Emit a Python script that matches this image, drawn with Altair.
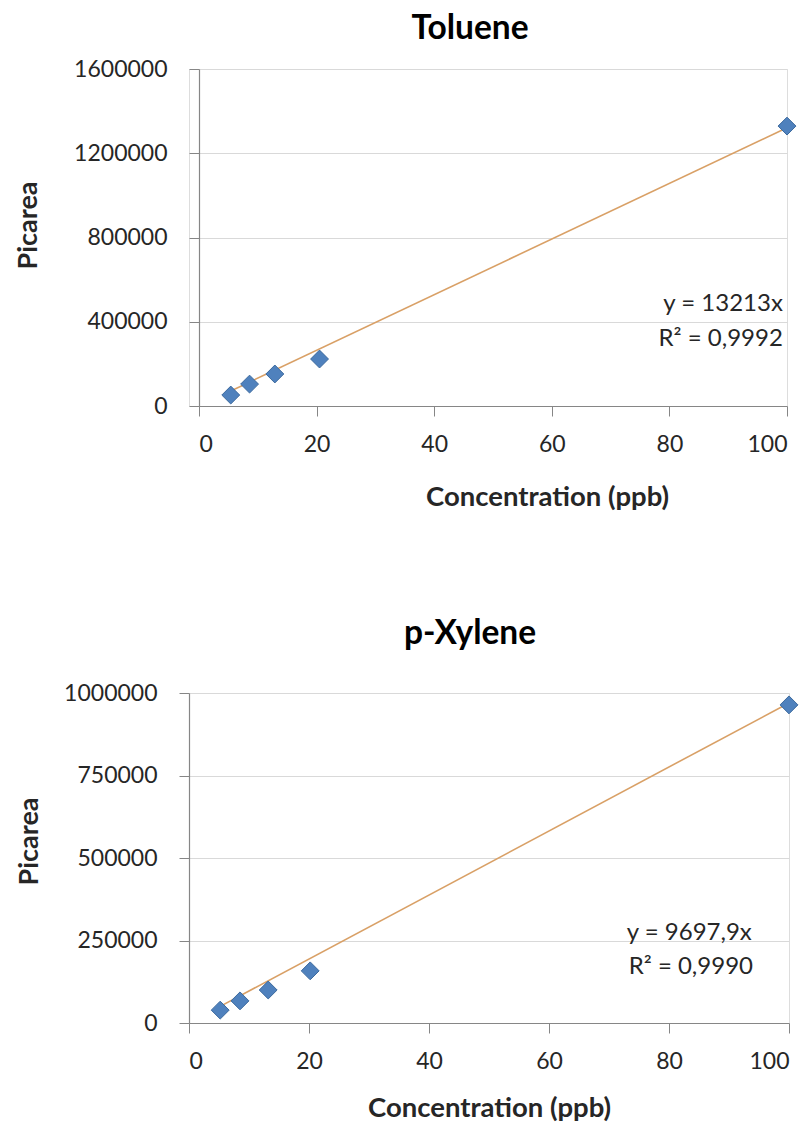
import altair as alt
import pandas as pd

FONT = "Lato"

# ---- data ----
toluene_conc = [5.4, 8.6, 12.9, 20.5, 100]
toluene_area = [52000, 104000, 152000, 223000, 1329000]
toluene_slope = 13213
toluene_eq = "y = 13213x"
toluene_r2 = "R² = 0,9992"

xylene_conc = [5.2, 8.5, 13.2, 20.2, 100]
xylene_area = [39000, 67000, 100000, 158000, 964000]
xylene_slope = 9697.9
xylene_eq = "y = 9697,9x"
xylene_r2 = "R² = 0,9990"

x_ticks = [0, 20, 40, 60, 80, 100]
toluene_y_ticks = [0, 400000, 800000, 1200000, 1600000]
xylene_y_ticks = [0, 250000, 500000, 750000, 1000000]

# annotation anchor positions (data coordinates, right-aligned)
toluene_ann_x = [99.3, 99.3]
toluene_ann_y = [484000, 318000]
xylene_ann_x = [93.8, 94.0]
xylene_ann_y = [273000, 170000]

MARKER = "#4F81BD"
MARKER_EDGE = "#3C6A9E"
TREND = "#D9A066"
GRID = "#D9D9D9"
AXIS = "#868686"
TEXT = "#262626"


def panel(name, conc, area, slope, eq, r2, y_ticks, ann_x, ann_y,
          width, height, inset, y_title_pad, x_title_pad, x_title_x,
          y_title_y, title_dx, title_offset):
    pts = pd.DataFrame({"conc": conc, "area": area})
    x0, x1 = min(conc), max(conc)
    trend = pd.DataFrame({"conc": [x0, x1], "area": [slope * x0, slope * x1]})
    ann = pd.DataFrame({"conc": ann_x, "area": ann_y, "label": [eq, r2]})

    xs = alt.Scale(domain=[0, 100], nice=False, zero=False, range=[inset, width])
    ys = alt.Scale(domain=[y_ticks[0], y_ticks[-1]], nice=False, zero=False)

    x_axis = alt.Axis(
        values=x_ticks, title="Concentration (ppb)", grid=False,
        domainColor=AXIS, tickColor=AXIS, tickSize=10, domainWidth=1.2,
        labelFont=FONT, labelFontSize=23, labelColor=TEXT, labelPadding=17,
        titleFont=FONT, titleFontSize=27.5, titleFontWeight="bold", titleColor=TEXT,
        titlePadding=x_title_pad, titleX=x_title_x, titleAlign="center",
    )
    y_kwargs = dict(
        values=y_ticks, format="d", title="Picarea", grid=True, gridColor=GRID,
        gridWidth=1.2, domainColor=AXIS, tickColor=AXIS, tickSize=10, domainWidth=1.2,
        labelFont=FONT, labelFontSize=23, labelColor=TEXT, labelPadding=22,
        titleFont=FONT, titleFontSize=27, titleFontWeight="bold", titleColor=TEXT,
        titlePadding=y_title_pad, titleY=y_title_y,
    )
    if inset:
        y_kwargs["offset"] = -inset
    y_axis = alt.Axis(**y_kwargs)

    line = alt.Chart(trend).mark_line(color=TREND, strokeWidth=1.6).encode(
        x=alt.X("conc:Q", scale=xs, axis=x_axis),
        y=alt.Y("area:Q", scale=ys, axis=y_axis),
    )
    points = alt.Chart(pts).mark_point(
        shape="diamond", filled=True, size=320, color=MARKER, opacity=1,
        stroke=MARKER_EDGE, strokeWidth=1,
    ).encode(x="conc:Q", y="area:Q")
    text = alt.Chart(ann).mark_text(
        align="right", baseline="middle", font=FONT, fontSize=24, color=TEXT,
    ).encode(x="conc:Q", y="area:Q", text="label:N")

    return alt.layer(line, points, text).properties(
        width=width, height=height,
        title=alt.TitleParams(
            name, font=FONT, fontSize=33.5, fontWeight="bold", color="#000000",
            anchor="middle", frame="group", offset=title_offset, dx=title_dx,
        ),
    )


top = panel("Toluene", toluene_conc, toluene_area, toluene_slope, toluene_eq,
            toluene_r2, toluene_y_ticks, toluene_ann_x, toluene_ann_y,
            598, 337, 10, 31, 27, 358, 156, -18, 12)
bottom = panel("p-Xylene", xylene_conc, xylene_area, xylene_slope, xylene_eq,
               xylene_r2, xylene_y_ticks, xylene_ann_x, xylene_ann_y,
               600, 330, 0, 20, 21, 300, 148, -19, 31)

chart = alt.concat(top, bottom, columns=1, spacing=105).properties(
    padding={"left": 6, "top": 3, "right": 0, "bottom": 0},
).configure_view(stroke=None).configure(background="white")

chart.save("out.html", embed_options={"renderer": "svg", "actions": False})
